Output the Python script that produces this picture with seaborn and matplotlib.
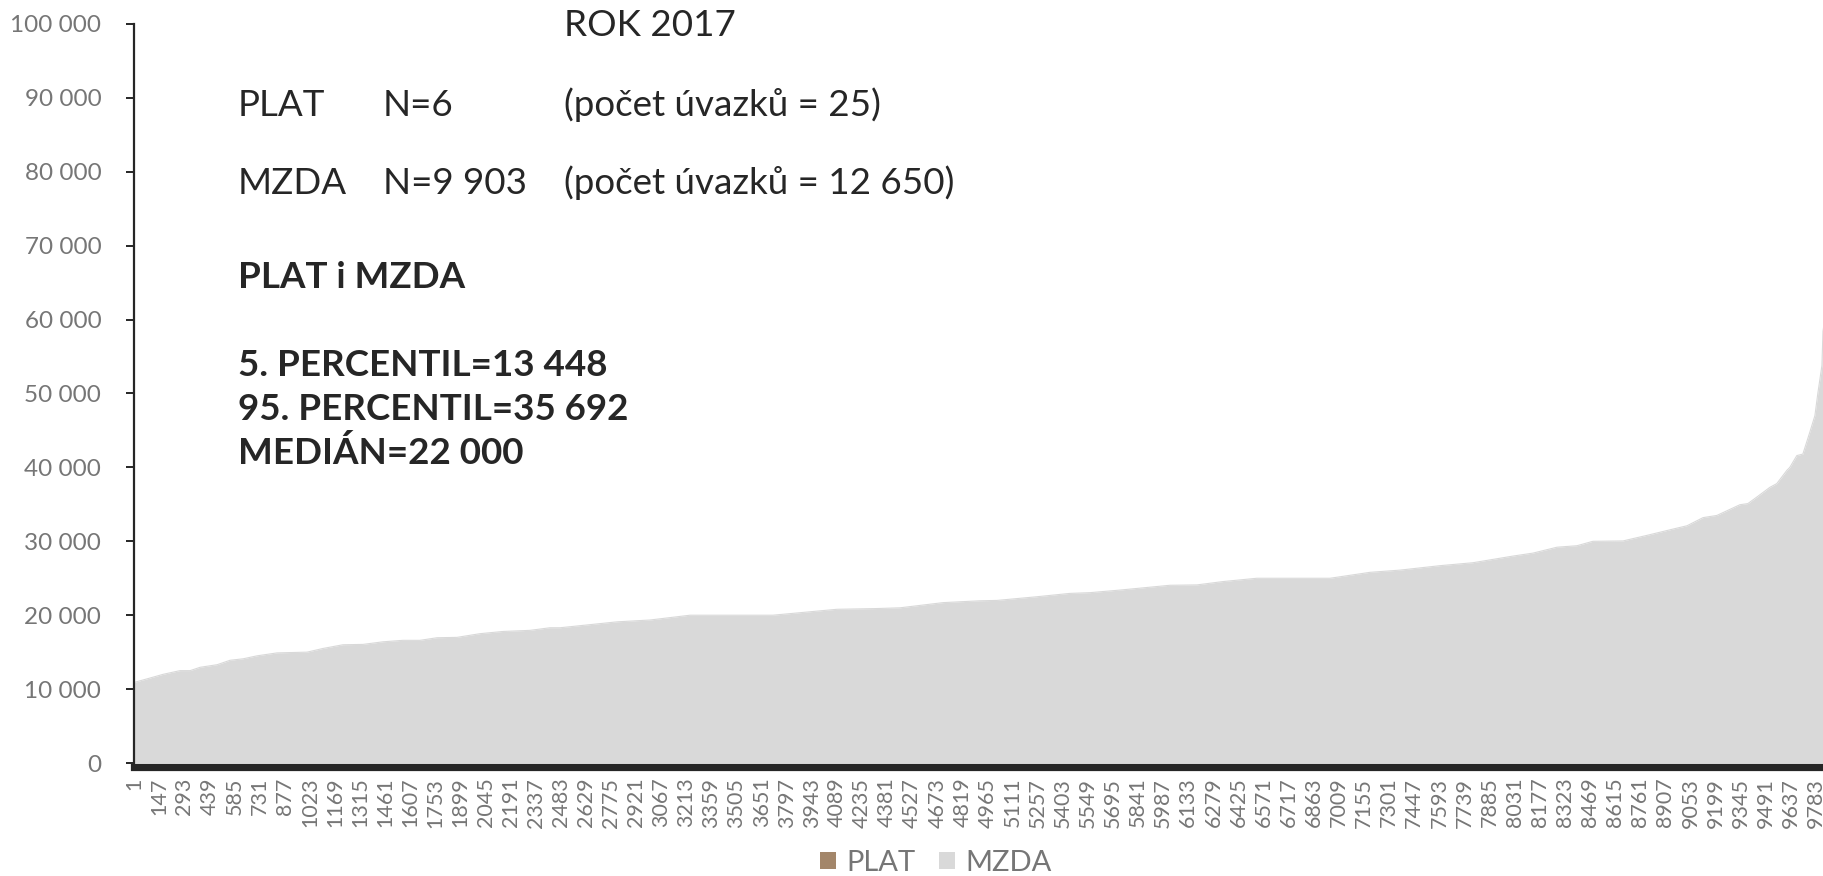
import matplotlib
matplotlib.use("Agg")
import matplotlib.pyplot as plt
from matplotlib.patches import Patch
from matplotlib.ticker import FuncFormatter
import seaborn as sns
import numpy as np

# ---- data (sorted monthly pay, rank -> value) ----
rank = [1, 94, 170, 268, 327, 385, 484, 559, 635, 716, 833, 1007, 1100, 1216,
        1333, 1449, 1565, 1664, 1763, 1879, 2013, 2147, 2304, 2420, 2478, 2810,
        3002, 3235, 3717, 4089, 4322, 4456, 4706, 4921, 5020, 5253, 5444, 5561,
        5735, 6026, 6183, 6334, 6532, 6957, 7189, 7364, 7596, 7788, 8021, 8137,
        8277, 8393, 8486, 8661, 8800, 8951, 9033, 9126, 9207, 9341, 9387, 9440,
        9515, 9555, 9614, 9631, 9672, 9707, 9748, 9777, 9794, 9818, 9824, 9834]
salary = [10900, 11500, 12000, 12500, 12500, 12950, 13300, 13900, 14100, 14500,
          14900, 15000, 15500, 16000, 16050, 16400, 16600, 16600, 16950, 17000,
          17500, 17800, 17950, 18300, 18300, 19100, 19350, 20000, 20000, 20800,
          20900, 21000, 21700, 21950, 22000, 22500, 22950, 23050, 23400, 24050,
          24100, 24550, 25000, 25000, 25800, 26100, 26700, 27100, 28000, 28400,
          29200, 29400, 30000, 30050, 30800, 31650, 32100, 33200, 33500, 34950,
          35100, 36000, 37300, 37800, 39600, 40000, 41600, 41800, 44800, 47000,
          50000, 53800, 58400, 60000]

series_names = ["PLAT", "MZDA"]
series_colors = ["#A3866A", "#D9D9D9"]

tick_categories = list(range(1, 9784, 146))
tick_labels = [str(c) for c in tick_categories]

title_text = "ROK 2017"
info_rows = [("PLAT", "N=6", "(počet úvazků = 25)"),
             ("MZDA", "N=9 903", "(počet úvazků = 12 650)")]
bold_head = "PLAT i MZDA"
bold_lines = ["5. PERCENTIL=13 448", "95. PERCENTIL=35 692", "MEDIÁN=22 000"]

# ---- figure ----
sns.set_theme(style="white")
plt.rcParams["font.family"] = ["Lato", "DejaVu Sans"]

W, H = 1824, 876
fig = plt.figure(figsize=(W / 100, H / 100), dpi=100)
ax = fig.add_axes([134 / W, 1 - 763 / H, 1 - 134 / W, (763 - 24) / H])

sns.lineplot(x=rank, y=salary, ax=ax, color=series_colors[1], linewidth=0.8)
ax.fill_between(rank, salary, 0, color=series_colors[1], linewidth=0)

ax.set_xlim(0.5, 9830)
ax.set_ylim(0, 100000)
ax.set_yticks(np.arange(0, 100001, 10000))
ax.yaxis.set_major_formatter(FuncFormatter(lambda v, p: f"{int(v):,}".replace(",", " ")))
ax.set_xticks(tick_categories)
ax.set_xticklabels(tick_labels)
ax.set_xlabel("")
ax.set_ylabel("")

for s in ["top", "right"]:
    ax.spines[s].set_visible(False)
ax.spines["left"].set_color("#262626")
ax.spines["left"].set_linewidth(1.6)
ax.spines["bottom"].set_color("#262626")
ax.spines["bottom"].set_linewidth(5.2)
ax.spines["bottom"].set_position(("outward", 2.6))

ax.tick_params(axis="y", which="major", left=True, length=5.5, width=1.4,
               color="#262626", direction="out", pad=18, labelsize=17.5,
               labelcolor="#767676")
ax.tick_params(axis="x", which="major", bottom=False, length=0, pad=8,
               labelsize=15.5, labelcolor="#767676", labelrotation=90)
for lab in ax.get_xticklabels():
    lab.set_rotation(90)
    lab.set_va("top")
    lab.set_ha("center")

# ---- annotations ----
def fx(px):
    return px / W

def fy(py):
    return 1 - py / H

txt = dict(fontsize=26.5, color="#262626", va="center", ha="left")
fig.text(fx(564), fy(26), title_text, **txt)
for (a, b, c), yy in zip(info_rows, [105, 183]):
    fig.text(fx(238), fy(yy), a, **txt)
    fig.text(fx(383), fy(yy), b, **txt)
    fig.text(fx(564), fy(yy), c, **txt)
fig.text(fx(238), fy(277), bold_head, fontweight="bold", **txt)
for line, yy in zip(bold_lines, [365, 409, 453]):
    fig.text(fx(238), fy(yy), line, fontweight="bold", **txt)

handles = [Patch(facecolor=c, edgecolor="none") for c in series_colors]
fig.legend(handles, series_names, loc="center", bbox_to_anchor=(936 / W, 1 - 863 / H),
           ncol=2, frameon=False, fontsize=21, labelcolor="#767676",
           handlelength=0.55, handleheight=0.55, handletextpad=0.35,
           columnspacing=0.8)

fig.savefig("out.png", dpi=100)
